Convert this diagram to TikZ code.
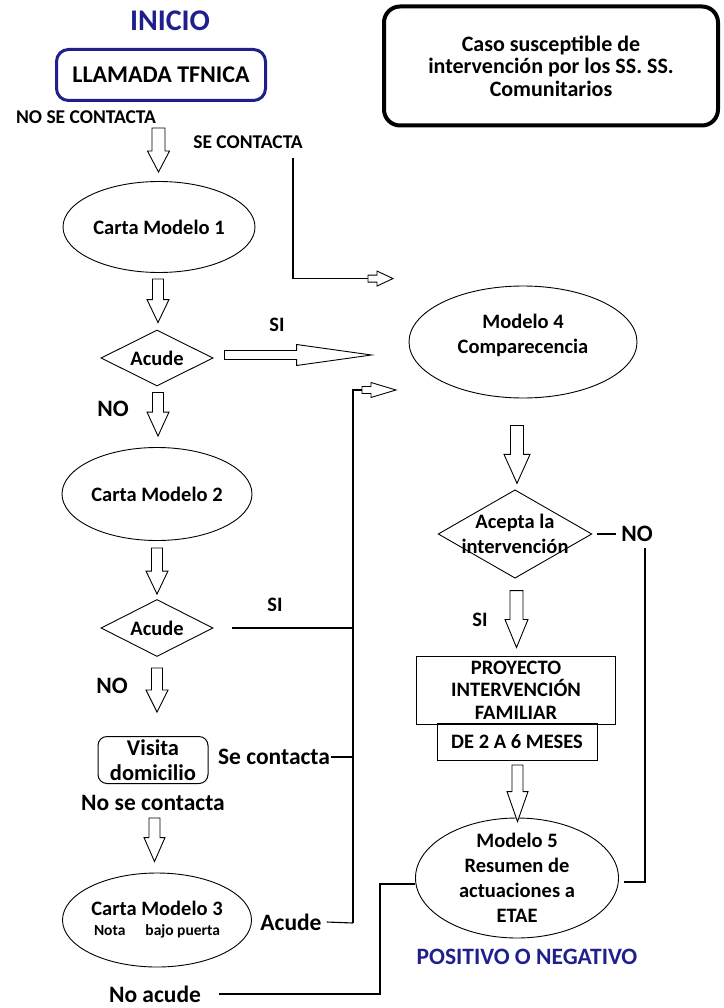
\documentclass[tikz,border=0pt]{standalone}
\usepackage{fontspec}
\setmainfont{Carlito}
\usetikzlibrary{shapes.geometric,calc}
\definecolor{navy}{RGB}{32,32,140}

\newcommand{\nodefont}{\fontsize{20.5}{25}\selectfont\bfseries}
\newcommand{\boxfont}{\fontsize{20.5}{22.5}\selectfont\bfseries}
\newcommand{\labfont}{\fontsize{23.5}{28}\selectfont\bfseries}
\newcommand{\smallfont}{\fontsize{19.5}{22}\selectfont\bfseries}

% hollow block arrows: tail, tip, half shaft, half head, head length
\newcommand{\blockdown}[5]{\draw[blockarrow] let \p1=(#1), \p2=(#2) in
  (\x1-#3,\y1) -- (\x1-#3,\y2+#5) -- (\x1-#4,\y2+#5) -- (\x1,\y2)
  -- (\x1+#4,\y2+#5) -- (\x1+#3,\y2+#5) -- (\x1+#3,\y1) -- cycle;}
\newcommand{\blockright}[5]{\draw[blockarrow] let \p1=(#1), \p2=(#2) in
  (\x1,\y1+#3) -- (\x2-#5,\y1+#3) -- (\x2-#5,\y1+#4) -- (\x2,\y1)
  -- (\x2-#5,\y1-#4) -- (\x2-#5,\y1-#3) -- (\x1,\y1-#3) -- cycle;}

\begin{document}
\begin{tikzpicture}[x=1pt,y=-1pt]
  \tikzstyle{startbox} = [rectangle, rounded corners=12pt, draw=navy, line width=3pt, minimum width=209pt, minimum height=51pt, font=\fontsize{24}{28}\selectfont\bfseries]
  \tikzstyle{casobox} = [rectangle, rounded corners=16pt, draw=black, line width=4pt, minimum width=334pt, minimum height=119pt, align=center, font=\fontsize{22}{22.5}\selectfont\bfseries]
  \tikzstyle{carta} = [ellipse, draw, line width=0.9pt, inner sep=0pt, align=center, font=\nodefont]
  \tikzstyle{decision} = [diamond, draw, line width=0.9pt, inner sep=1pt, aspect=2, minimum width=112pt, minimum height=56pt, font=\nodefont]
  \tikzstyle{process} = [rectangle, draw, line width=1pt, inner sep=2pt, align=center, font=\boxfont]
  \tikzstyle{lab} = [inner sep=0pt, font=\labfont]
  \tikzstyle{blockarrow} = [draw, line width=0.9pt, fill=white, line join=miter]
  \tikzstyle{line} = [line width=1.1pt]

  \useasboundingbox (0,0) rectangle (723,1008);

  % left column
  \node (inicio) at (170,21) [font=\fontsize{30}{34}\selectfont\bfseries, text=navy] {INICIO};
  \node (llamada) at (161,75) [startbox] {LLAMADA TFNICA};
  \node (nosecon) at (86,117) [inner sep=0pt, font=\smallfont] {NO SE CONTACTA};
  \node (secon) at (248,142) [inner sep=0pt, font=\smallfont] {SE CONTACTA};
  \node (cm1) at (159,227) [carta, minimum width=192pt, minimum height=91pt] {Carta Modelo 1};
  \node (acude1) at (157,358) [decision] {Acude};
  \node (no1) at (113,409) [lab] {NO};
  \node (si1) at (277,325) [lab, font=\nodefont] {SI};
  \node (cm2) at (157,494) [carta, minimum width=190pt, minimum height=93pt] {Carta Modelo 2};
  \node (acude2) at (157,628) [decision, minimum height=57pt] {Acude};
  \node (si2) at (275,605) [lab, font=\nodefont] {SI};
  \node (no2) at (112,686) [lab] {NO};
  \node (visita) at (153,760) [process, rounded corners=9pt, minimum width=110pt, minimum height=47pt, font=\fontsize{22.5}{25}\selectfont\bfseries] {Visita\\domicilio};
  \node (secon2) at (274,757) [lab] {Se contacta};
  \node (nosecon2) at (153,803) [lab] {No se contacta};
  \node (cm3) at (157,920) [carta, minimum width=189pt, minimum height=94pt] {Carta Modelo 3\\[-5pt]{\fontsize{15.5}{17}\selectfont\bfseries Nota\hspace{20pt}bajo puerta}};
  \node (acude3) at (291,922) [lab] {Acude};
  \node (noacude) at (155,994) [lab] {No acude};

  % right column
  \node (caso) at (551,66) [casobox] {Caso susceptible de\\intervención por los SS. SS.\\Comunitarios};
  \node (m4) at (523,342) [carta, minimum width=228pt, minimum height=112pt] {Modelo 4\\Comparecencia\\[-8pt]\mbox{}};
  \node (acepta) at (515,534) [diamond, draw, line width=0.9pt, inner xsep=-11pt, inner ysep=0pt, aspect=1.74, align=center, font=\nodefont] {Acepta la\\intervención};
  \node (nor) at (637,534) [lab] {NO};
  \node (sir) at (480,620) [lab, font=\nodefont] {SI};
  \node (proy) at (516,690) [process, minimum width=199pt, minimum height=68pt] {PROYECTO\\INTERVENCIÓN\\FAMILIAR};
  \node (meses) at (517,742) [process, minimum width=160pt, minimum height=37pt] {DE 2 A 6 MESES};
  \node (m5) at (517,878) [carta, inner ysep=-5pt, minimum width=203pt, minimum height=120pt] {Modelo 5\\Resumen de\\actuaciones a\\ETAE};
  \node (posneg) at (527,957) [lab, text=navy] {POSITIVO O NEGATIVO};

  % turning points
  \coordinate (setop) at (293,158);
  \coordinate (bustop) at (353,390);
  \coordinate (busbot) at (353,923);
  \coordinate (notop) at (645,548);
  \coordinate (noturn) at (380,994);

  % big hollow arrows down
  \blockdown{$(llamada.south)+(-2.5,26)$}{$(cm1.north)+(0,-9)$}{6.5pt}{11pt}{21pt}
  \blockdown{$(cm1.south)+(-1,6)$}{$(acude1.north)+(0,-7)$}{5.5pt}{11pt}{23pt}
  \blockdown{$(acude1.south)+(1,6)$}{$(cm2.north)+(0,-11)$}{5.5pt}{11pt}{24pt}
  \blockdown{$(cm2.south)+(0,7)$}{$(acude2.north)+(0,-5)$}{5.5pt}{11pt}{23pt}
  \blockdown{$(acude2.south)+(0,11)$}{$(visita.north)+(4,-24)$}{5.5pt}{11pt}{22pt}
  \blockdown{$(visita.south)+(1.5,34)$}{$(cm3.north)+(-2.5,-11)$}{5.5pt}{10.5pt}{24pt}
  \blockdown{$(m4.south)+(-6,27)$}{$(acepta.north)+(1,-6)$}{6.5pt}{13pt}{29pt}
  \blockdown{$(acepta.south)+(1.5,12)$}{$(proy.north)+(0.5,-8)$}{6.5pt}{11.5pt}{28pt}
  \blockdown{$(meses.south)+(0.5,4)$}{$(m5.north)+(0.5,4)$}{5.5pt}{10.5pt}{30pt}

  % arrows to the right
  \blockright{$(acude1.east)+(11,-3)$}{$(m4.west)+(-37,13)$}{4.5pt}{10.5pt}{75pt}
  \blockright{$(setop |- m4.north)+(75,-7)$}{$(setop |- m4.north)+(100,-7)$}{3.5pt}{7.5pt}{16pt}
  \blockright{$(bustop)+(9,0)$}{$(bustop)+(43,0)$}{3.5pt}{7.5pt}{25pt}

  % lines
  \draw [line] (setop) |- ($(setop |- m4.north)+(75,-7)$);
  \draw [line] (busbot) -- (bustop) -- ($(bustop)+(9,0)$);
  \draw [line] ($(acude2.east)+(19,0)$) -- (bustop |- acude2.east);
  \draw [line] ($(secon2.east)+(1,0)$) -- (bustop |- secon2.east);
  \draw [line] ($(acude3.east)+(5,0)$) -- (busbot);
  \draw [line] ($(acepta.east)+(5,0)$) -- ($(nor.west)+(-5,0)$);
  \draw [line] (notop) |- ($(m5.east)+(5,4)$);
  \draw [line] ($(m5.west)+(0,6)$) -| (noturn) -- ($(noacude.east)+(18,0)$);
\end{tikzpicture}
\end{document}
